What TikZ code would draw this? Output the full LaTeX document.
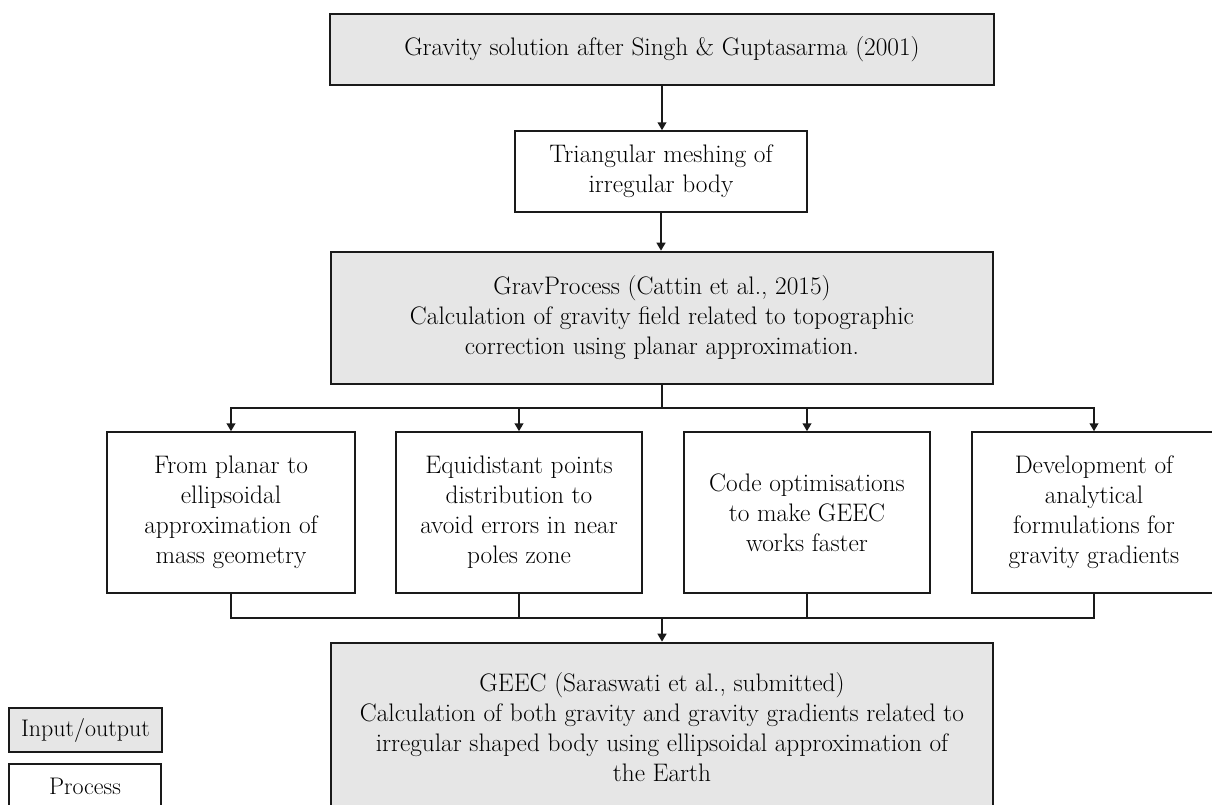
\documentclass[tikz,border=0pt]{standalone}
\usetikzlibrary{arrows.meta}
\definecolor{boxgray}{HTML}{E6E6E6}
\definecolor{edge}{HTML}{1A1A1A}
\tikzset{
  base/.style={draw=edge, rectangle, align=center, inner sep=0pt,
    font=\fontsize{19}{22.5}\selectfont, text=black},
  iobox/.style={base, fill=boxgray, line width=1.9pt},
  procbox/.style={base, fill=white, line width=1.1pt},
  sz/.style 2 args={minimum width=#1*0.75pt, minimum height=#2*0.75pt},
  conn/.style={draw=edge, line width=1.5pt},
  arr/.style={conn, -{Triangle[width=6.5pt,length=6pt]}},
}
\begin{document}
\begin{tikzpicture}[x=0.75pt, y=-0.75pt]
\useasboundingbox (0,0) rectangle (1212,804);
\clip (0,0) rectangle (1212,804);
\fill[white] (0,0) rectangle (1212,804);

\node[iobox, sz={664}{71}] (top) at (662,49.5) {Gravity solution after Singh \& Guptasarma (2001)};
\node[procbox, sz={292}{81}] (tri) at (661,171.5) {Triangular meshing of\\irregular body};
\node[iobox, sz={662}{132}] (grav) at (662,318) {GravProcess (Cattin et al., 2015)\\Calculation of gravity field related to topographic\\correction using planar approximation.};

\node[procbox, sz={248}{161}] (A) at (231,512.5) {From planar to\\ellipsoidal\\approximation of\\mass geometry};
\node[procbox, sz={246}{161}] (B) at (519,512.5) {Equidistant points\\distribution to\\avoid errors in near\\poles zone};
\node[procbox, sz={246}{161}] (C) at (807,512.5) {Code optimisations\\to make GEEC\\works faster};
\node[procbox, sz={244}{161}] (D) at (1094,512.5) {Development of\\analytical\\formulations for\\gravity gradients};

\node[iobox, sz={662}{169}] (geec) at (662,727.5) {GEEC (Saraswati et al., submitted)\\Calculation of both gravity and gravity gradients related to\\irregular shaped body using ellipsoidal approximation of\\the Earth};

\node[iobox, sz={153}{44}, font=\fontsize{18}{22.5}\selectfont] (leg1) at (85.5,730) {Input/output};
\node[procbox, sz={152}{44}, font=\fontsize{18}{22.5}\selectfont] (leg2) at (85,786) {Process};

\coordinate (sp) at (662,408);
\coordinate (jn) at (662,618);

\draw[arr] (top.south) -- (top.south |- tri.north);
\draw[arr] (tri.south) -- (tri.south |- grav.north);
\draw[conn] (grav.south) -- (sp);
\draw[arr] (sp) -| (A.north);
\draw[arr] (sp) -| (B.north);
\draw[arr] (sp) -| (C.north);
\draw[arr] (sp) -| (D.north);
\draw[conn] (A.south) |- (jn);
\draw[conn] (B.south) |- (jn);
\draw[conn] (C.south) |- (jn);
\draw[conn] (D.south) |- (jn);
\draw[arr] (jn) -- (geec.north);
\end{tikzpicture}
\end{document}
